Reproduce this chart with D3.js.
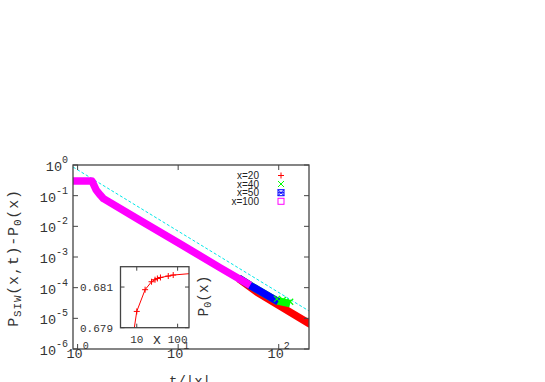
<!DOCTYPE html>
<html><head><meta charset="utf-8">
<script src="https://cdn.jsdelivr.net/npm/d3@7"></script>
<style>body{margin:0;background:#fff}svg{display:block}</style>
</head><body>
<svg id="c" width="545" height="382"></svg>
<script>
// ---- data ----
const seriesNames = ["x=20", "x=40", "x=50", "x=100"];
const seriesColors = ["#ff0000", "#00ff00", "#0000ff", "#ff00ff"];
// t/|x| and P_SIW - P_0 per series
const redT  = [40, 61, 103, 200, 230];
const redP  = [0.000195, 7.1e-5, 2.5e-5, 6.8e-6, 5.2e-6];
const greenT = [40, 61, 96, 110, 130];
const greenP = [0.000205, 8.7e-5, 3.7e-5, 3.4e-5, 3.0e-5];
const blueT = [40, 52, 99];
const blueP = [0.000205, 0.000118, 3.5e-5];
const magT  = [0.9, 1.39, 1.53, 1.68, 1.81, 4.2, 10.5, 26, 52];
const magP  = [0.30, 0.30, 0.153, 0.105, 0.080, 0.0156, 0.00265, 0.00045, 0.00012];
// reference power law line (dashed cyan)
const refT = [0.9, 200];
const refP = [0.86, 1.74e-5];
// inset: P_0(x) vs x
const insetX = [8, 10, 16, 23, 28, 32, 38, 59, 78, 200];
const insetP = [0.6785, 0.67980, 0.68087, 0.68126, 0.68136, 0.68142, 0.68147, 0.68154, 0.68159, 0.68166];
// ticks
const xTicks = [1, 10, 100];
const xTickExp = ["0", "1", "2"];
const yTicks = [1, 0.1, 0.01, 0.001, 1e-4, 1e-5, 1e-6];
const yTickExp = ["0", "-1", "-2", "-3", "-4", "-5", "-6"];
const insetXTicks = [10, 100];
const insetXTickLabels = ["10", "100"];
const insetYTicks = [0.679, 0.681];
const insetYTickLabels = ["0.679", "0.681"];

const svg = d3.select("#c");
const mono = "'Liberation Mono', 'DejaVu Sans Mono', monospace";
const sans = "'Liberation Sans', Arial, sans-serif";
const txt = "#333";

const L = 73, R = 309, T = 165, B = 349;
const x = d3.scaleLog().domain([0.9, 200]).range([L, R]);
const y = d3.scaleLog().domain([1e-6, 1]).range([B, T]);

svg.append("defs").append("clipPath").attr("id", "mc")
  .append("rect").attr("x", L).attr("y", T).attr("width", R - L).attr("height", B - T);

const g = svg.append("g").attr("clip-path", "url(#mc)");
const line = d3.line().x(d => x(d[0])).y(d => y(d[1]));

// reference dashed line
g.append("path").datum(d3.zip(refT, refP)).attr("d", line)
  .attr("fill", "none").attr("stroke", "#00e8e8").attr("stroke-width", 1)
  .attr("stroke-dasharray", "3,2");

const series = [[redT, redP], [greenT, greenP], [blueT, blueP], [magT, magP]];
series.forEach((s, i) => {
  g.append("path").datum(d3.zip(s[0], s[1])).attr("d", line)
    .attr("fill", "none").attr("stroke", seriesColors[i]).attr("stroke-width", 7.5)
    .attr("stroke-linejoin", "round").attr("stroke-linecap", "butt");
});
// green x markers at the tail
[2, 3, 4].forEach(k => {
  const cx = x(greenT[k]), cy = y(greenP[k]) - 2;
  g.append("path").attr("d", `M${cx-3},${cy-3}L${cx+3},${cy+3}M${cx-3},${cy+3}L${cx+3},${cy-3}`)
    .attr("stroke", "#00ff00").attr("stroke-width", 1.2);
});

// frame
svg.append("rect").attr("x", L).attr("y", T).attr("width", R - L).attr("height", B - T)
  .attr("fill", "none").attr("stroke", "#444").attr("stroke-width", 1.3);

// ticks main
const tk = 5;
xTicks.forEach((v, i) => {
  const px = x(v);
  svg.append("line").attr("x1", px).attr("x2", px).attr("y1", B).attr("y2", B - tk).attr("stroke", "#444");
  svg.append("line").attr("x1", px).attr("x2", px).attr("y1", T).attr("y2", T + tk).attr("stroke", "#444");
  const t = svg.append("text").attr("x", px).attr("y", 358).attr("text-anchor", "middle")
    .attr("font-family", mono).attr("font-size", 13.5).attr("fill", txt);
  t.append("tspan").text("10");
  t.append("tspan").attr("dy", -9).attr("font-size", 10).text(xTickExp[i]);
});
yTicks.forEach((v, i) => {
  const py = y(v);
  svg.append("line").attr("x1", L).attr("x2", L + tk).attr("y1", py).attr("y2", py).attr("stroke", "#444");
  svg.append("line").attr("x1", R).attr("x2", R - tk).attr("y1", py).attr("y2", py).attr("stroke", "#444");
  const t = svg.append("text").attr("x", 68).attr("y", py + 6).attr("text-anchor", "end")
    .attr("font-family", mono).attr("font-size", 13.5).attr("fill", txt);
  t.append("tspan").text("10");
  t.append("tspan").attr("dy", -8).attr("font-size", 10).text(yTickExp[i]);
});

// axis titles
svg.append("text").attr("x", 190).attr("y", 386).attr("text-anchor", "middle")
  .attr("font-family", mono).attr("font-size", 14).attr("fill", txt).text("t/|x|");
const yt = svg.append("text").attr("transform", "translate(18,258) rotate(-90)")
  .attr("text-anchor", "middle").attr("font-family", mono).attr("font-size", 15)
  .attr("letter-spacing", 0.8).attr("fill", txt);
yt.append("tspan").text("P");
yt.append("tspan").attr("dy", 3).attr("font-size", 11).text("SIW");
yt.append("tspan").attr("dy", -3).text("(x,t)-P");
yt.append("tspan").attr("dy", 3).attr("font-size", 11).text("0");
yt.append("tspan").attr("dy", -3).text("(x)");

// legend
const legY = [175.5, 184, 192.7, 201.3];
seriesNames.forEach((n, i) => {
  svg.append("text").attr("x", 259).attr("y", legY[i] + 3.5).attr("text-anchor", "end")
    .attr("font-family", sans).attr("font-size", 10).attr("fill", "#222").text(n);
  const cx = 281, cy = legY[i], s = 3;
  const c = seriesColors[i];
  if (i === 0) {
    svg.append("path").attr("d", `M${cx-s},${cy}L${cx+s},${cy}M${cx},${cy-s}L${cx},${cy+s}`).attr("stroke", c).attr("stroke-width", 1);
  } else if (i === 1) {
    svg.append("path").attr("d", `M${cx-s},${cy-s}L${cx+s},${cy+s}M${cx-s},${cy+s}L${cx+s},${cy-s}`).attr("stroke", c).attr("stroke-width", 1);
  } else if (i === 2) {
    svg.append("rect").attr("x", cx - s).attr("y", cy - s).attr("width", 2 * s).attr("height", 2 * s)
      .attr("fill", "none").attr("stroke", c).attr("stroke-width", 1);
    svg.append("path").attr("d", `M${cx-s},${cy-s}L${cx+s},${cy+s}M${cx-s},${cy+s}L${cx+s},${cy-s}M${cx-s},${cy}L${cx+s},${cy}`).attr("stroke", c).attr("stroke-width", 1);
  } else {
    svg.append("rect").attr("x", cx - s).attr("y", cy - s).attr("width", 2 * s).attr("height", 2 * s)
      .attr("fill", "none").attr("stroke", c).attr("stroke-width", 1);
  }
});

// ---- inset ----
const iL = 120.5, iR = 189, iT = 266.7, iB = 327.7;
const ix = d3.scaleLog().domain([4, 190]).range([iL, iR]);
const iy = d3.scaleLinear().domain([0.679, 0.682]).range([iB, iT]);
svg.select("defs").append("clipPath").attr("id", "ic")
  .append("rect").attr("x", iL).attr("y", iT).attr("width", iR - iL).attr("height", iB - iT);
const ig = svg.append("g").attr("clip-path", "url(#ic)");
const iline = d3.line().x(d => ix(d[0])).y(d => iy(d[1]));
const idata = d3.zip(insetX, insetP);
ig.append("path").datum(idata).attr("d", iline).attr("fill", "none").attr("stroke", "#ff0000").attr("stroke-width", 1);
idata.slice(1, 9).forEach(d => {
  const cx = ix(d[0]), cy = iy(d[1]), s = 3;
  ig.append("path").attr("d", `M${cx-s},${cy}L${cx+s},${cy}M${cx},${cy-s}L${cx},${cy+s}`).attr("stroke", "#ff0000").attr("stroke-width", 1);
});
svg.append("rect").attr("x", iL).attr("y", iT).attr("width", iR - iL).attr("height", iB - iT)
  .attr("fill", "none").attr("stroke", "#444").attr("stroke-width", 1.3);
insetXTicks.forEach((v, i) => {
  const px = ix(v);
  svg.append("line").attr("x1", px).attr("x2", px).attr("y1", iB).attr("y2", iB - 4).attr("stroke", "#444");
  svg.append("line").attr("x1", px).attr("x2", px).attr("y1", iT).attr("y2", iT + 4).attr("stroke", "#444");
  svg.append("text").attr("x", px).attr("y", 343).attr("text-anchor", "middle")
    .attr("font-family", mono).attr("font-size", 11).attr("fill", txt).text(insetXTickLabels[i]);
});
insetYTicks.forEach((v, i) => {
  const py = iy(v);
  svg.append("line").attr("x1", iL).attr("x2", iL + 4).attr("y1", py).attr("y2", py).attr("stroke", "#444");
  svg.append("line").attr("x1", iR).attr("x2", iR - 4).attr("y1", py).attr("y2", py).attr("stroke", "#444");
  svg.append("text").attr("x", 113).attr("y", py + 4).attr("text-anchor", "end")
    .attr("font-family", mono).attr("font-size", 11).attr("fill", txt).text(insetYTickLabels[i]);
});
svg.append("text").attr("x", 157).attr("y", 344).attr("text-anchor", "middle")
  .attr("font-family", mono).attr("font-size", 14).attr("fill", txt).text("x");
const iyt = svg.append("text").attr("transform", "translate(208,296) rotate(-90)")
  .attr("text-anchor", "middle").attr("font-family", mono).attr("font-size", 14.5).attr("fill", txt);
iyt.append("tspan").text("P");
iyt.append("tspan").attr("dy", 3).attr("font-size", 10).text("0");
iyt.append("tspan").attr("dy", -3).text("(x)");
</script>
</body></html>
